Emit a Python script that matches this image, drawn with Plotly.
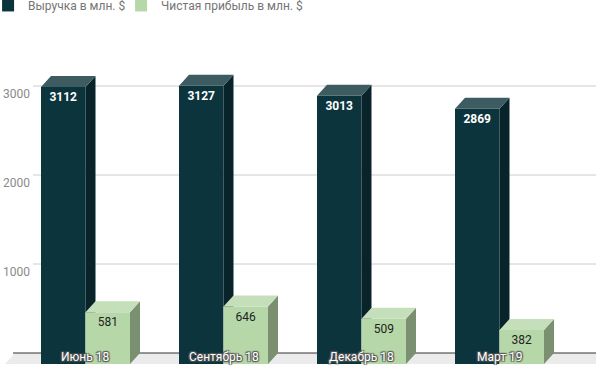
import plotly.graph_objects as go

# ---- data ----
categories = ["Июнь 18", "Сентябрь 18", "Декабрь 18", "Март 19"]
revenue = [3112, 3127, 3013, 2869]
profit = [581, 646, 509, 382]
y_tick_values = [1000, 2000, 3000]
series_names = ["Выручка в млн. $", "Чистая прибыль в млн. $"]

# ---- geometry (pixel based, converted into axis units) ----
W, H = 596, 367
M_TOP, M_BOTTOM = 40, 0
ZERO_PX = 353          # pixel row of value 0 on the back wall
PX_PER_UNIT = 0.089    # pixels per value unit
CAT_PX = 138           # pixels per category
FIRST_CENTER_PX = 85.5
DEPTH_X_PX, DEPTH_Y_PX = 10, 11

def px_to_x(px):
    return (px - FIRST_CENTER_PX) / CAT_PX

def py_to_y(py):
    return (ZERO_PX - py) / PX_PER_UNIT

x_range = [px_to_x(0), px_to_x(W)]
y_range = [py_to_y(H - M_BOTTOM), py_to_y(M_TOP)]
D = DEPTH_Y_PX / PX_PER_UNIT
DX = DEPTH_X_PX / CAT_PX
BW = 44.5 / CAT_PX

DARK_FRONT, DARK_SIDE, DARK_TOP = "#0c343d", "#08242a", "#3d5c62"
GREEN_FRONT, GREEN_SIDE, GREEN_TOP = "#b6d7a8", "#7a9070", "#c6dfbb"

xs = list(range(len(categories)))

fig = go.Figure()

# front faces as bars
fig.add_trace(go.Bar(
    x=xs, y=revenue, base=[-D] * len(xs), width=BW, offset=-BW,
    name=series_names[0], marker=dict(color=DARK_FRONT, line=dict(width=0)),
    text=[str(v) for v in revenue], textposition="inside", insidetextanchor="end",
    insidetextfont=dict(color="white", size=12, family="Roboto", weight="bold"),
    textangle=0, hoverinfo="skip", legend="legend",
))
fig.add_trace(go.Bar(
    x=xs, y=profit, base=[-D] * len(xs), width=BW, offset=0,
    name=series_names[1], marker=dict(color=GREEN_FRONT, line=dict(width=0)),
    text=[str(v) for v in profit], textposition="inside", insidetextanchor="end",
    insidetextfont=dict(color="#222222", size=12, family="Roboto"),
    textangle=0, hoverinfo="skip", legend="legend2",
))

def poly_trace(polys, color):
    px, py = [], []
    for p in polys:
        for (a, b) in p:
            px.append(a)
            py.append(b)
        px.append(p[0][0]); py.append(p[0][1])
        px.append(None); py.append(None)
    return go.Scatter(x=px, y=py, mode="lines", fill="toself", fillcolor=color,
                      line=dict(width=0, color=color), showlegend=False,
                      hoverinfo="skip")

dark_side, dark_top, green_side, green_top = [], [], [], []
for i, v, g in zip(xs, revenue, profit):
    # dark side, visible only above the green block front
    dark_side.append([(i, g - D), (i + DX, g - D), (i + DX, v), (i, v - D)])
    dark_top.append([(i - BW, v - D), (i - BW + DX, v), (i + DX, v), (i, v - D)])
    x1 = i + BW
    green_side.append([(x1, -D), (x1 + DX, 0), (x1 + DX, g), (x1, g - D)])
    green_top.append([(i, g - D), (i + DX, g), (x1 + DX, g), (x1, g - D)])

fig.add_trace(poly_trace(dark_side, DARK_SIDE))
fig.add_trace(poly_trace(dark_top, DARK_TOP))
fig.add_trace(poly_trace(green_side, GREEN_SIDE))
fig.add_trace(poly_trace(green_top, GREEN_TOP))

# floor, baseline, gridlines (below traces)
shapes = []
fl, fr = px_to_x(15), px_to_x(W + 20)
shapes.append(dict(type="path", xref="x", yref="y", layer="below",
                   path=f"M{fl},0 L{fr},0 L{fr - DX},{-D} L{fl - DX},{-D} Z",
                   fillcolor="#ebebeb", line=dict(width=0)))
for t in y_tick_values:
    shapes.append(dict(type="line", xref="x", yref="y", layer="below",
                       x0=px_to_x(33), x1=x_range[1], y0=t, y1=t,
                       line=dict(color="#cccccc", width=1)))
shapes.append(dict(type="line", xref="x", yref="y", layer="below",
                   x0=px_to_x(13), x1=x_range[1], y0=0, y1=0,
                   line=dict(color="#333333", width=1)))

annotations = []
for i, c in zip(xs, categories):
    annotations.append(dict(
        x=i, y=py_to_y(357), xref="x", yref="y", text=c, showarrow=False,
        xanchor="center", yanchor="middle",
        font=dict(family="Roboto", size=12, color="white",
                  shadow="1px 1px 1px #555, -1px -1px 1px #555, 1px -1px 1px #555, -1px 1px 1px #555"),
    ))

legend_common = dict(orientation="h", xref="paper", yref="paper",
                     y=1.15, xanchor="left", yanchor="top",
                     font=dict(size=12, color="#757575", family="Roboto"),
                     itemwidth=30, bgcolor="rgba(0,0,0,0)")

fig.update_layout(
    width=W, height=H,
    margin=dict(l=0, r=0, t=M_TOP, b=M_BOTTOM, pad=0, autoexpand=False),
    paper_bgcolor="white", plot_bgcolor="rgba(0,0,0,0)",
    font=dict(family="Roboto"),
    barmode="overlay",
    showlegend=True,
    legend=dict(x=-0.02, **legend_common),
    legend2=dict(x=-0.02 + 133 / W, **legend_common),
    xaxis=dict(range=x_range, visible=False, fixedrange=True, automargin=False),
    yaxis=dict(range=y_range, tickvals=y_tick_values,
               ticktext=[str(t) for t in y_tick_values],
               ticklabelposition="inside", ticklabelshift=8,
               showgrid=False, zeroline=False, showline=False, ticks="",
               tickfont=dict(size=12, color="#8a8a8a", family="Roboto"),
               fixedrange=True, automargin=False),
    shapes=shapes, annotations=annotations,
    uniformtext=dict(mode=False),
)

fig.write_html(
    "out.html",
    config={"displayModeBar": False},
    post_script="document.body.style.margin='0';document.body.style.overflow='hidden';",
)
